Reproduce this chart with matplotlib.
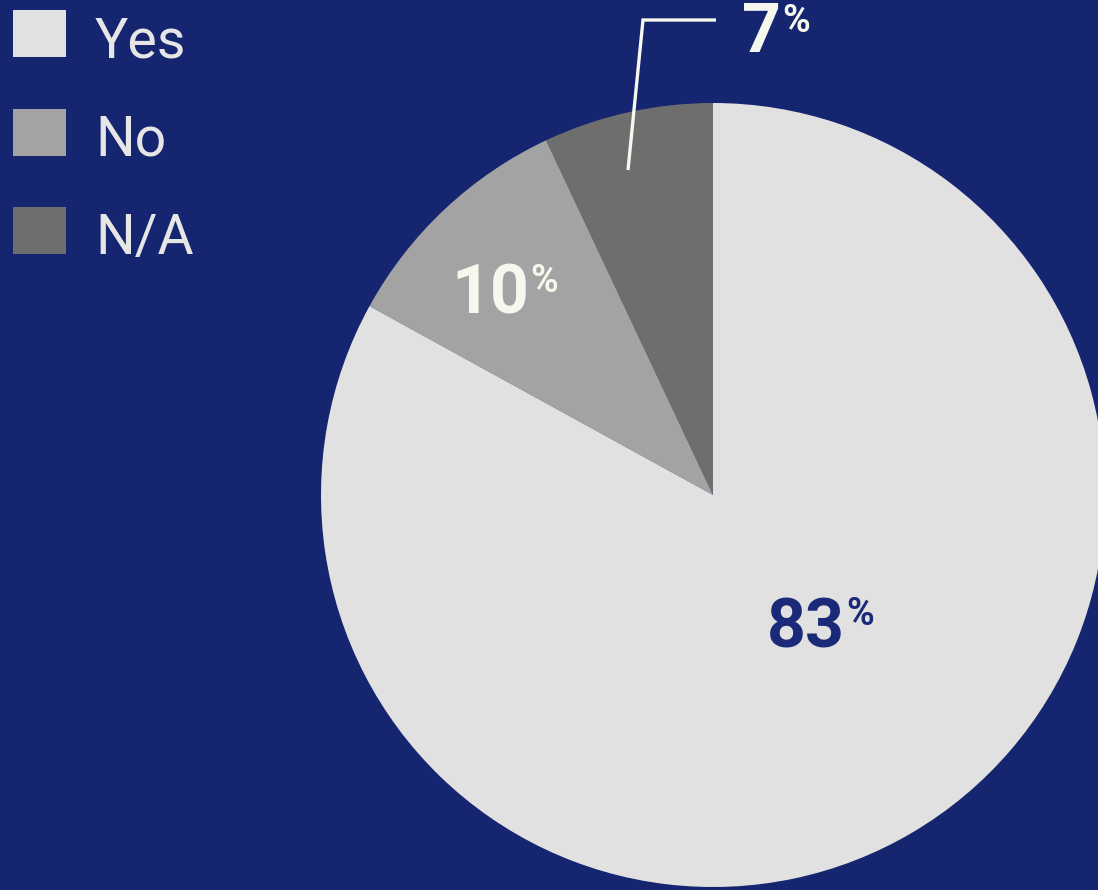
import matplotlib
matplotlib.use("Agg")
import matplotlib.pyplot as plt
from matplotlib.patches import Rectangle

categories = ["Yes", "No", "N/A"]
values = [83, 10, 7]
colors = ["#e1e1e1", "#a3a3a3", "#6e6e6e"]

BG = "#152570"
W, H = 1098, 890

fig = plt.figure(figsize=(W / 100, H / 100), dpi=100)
fig.patch.set_facecolor(BG)
ax = fig.add_axes([0, 0, 1, 1])
ax.set_facecolor(BG)


def Y(py):
    return H - py


# pie: order counterclockwise from top: N/A, No, Yes
order = [2, 1, 0]
ax.pie([values[i] for i in order], colors=[colors[i] for i in order],
       startangle=90, counterclock=True, center=(713, Y(495)), radius=392,
       wedgeprops=dict(linewidth=0), frame=True)
ax.set_xlim(0, W)
ax.set_ylim(0, H)
ax.set_aspect("equal")
ax.axis("off")

# legend (manual)
for i, (cat, col) in enumerate(zip(categories, colors)):
    top = 10 + i * 98.5
    ax.add_patch(Rectangle((13, Y(top + 47)), 53, 47, facecolor=col, edgecolor="none"))
    ax.text(95, Y(top + 47), cat, fontsize=40, family="Roboto", color="#e6e6e6",
            ha="left", va="baseline")

FONT = "Roboto"


def pct_label(val, x_right, baseline, top, color):
    ax.text(x_right, Y(baseline), f"{val}", fontsize=49, family=FONT,
            fontweight="bold", color=color, ha="right", va="baseline")
    ax.text(x_right + 1, Y(top - 2), "%", fontsize=27, family=FONT,
            fontweight="bold", color=color, ha="left", va="top")


pct_label(values[0], 845, 648, 598, "#1b2a78")
pct_label(values[1], 529, 313, 265, "#f6f8ee")
pct_label(values[2], 781, 52, 5, "#f6f8ee")

# leader line for N/A
ax.plot([628, 643, 716], [Y(170), Y(20), Y(20)], color="#f6f8ee", lw=2.4,
        solid_capstyle="butt", solid_joinstyle="miter")

fig.savefig("out.png", dpi=100, facecolor=BG)
